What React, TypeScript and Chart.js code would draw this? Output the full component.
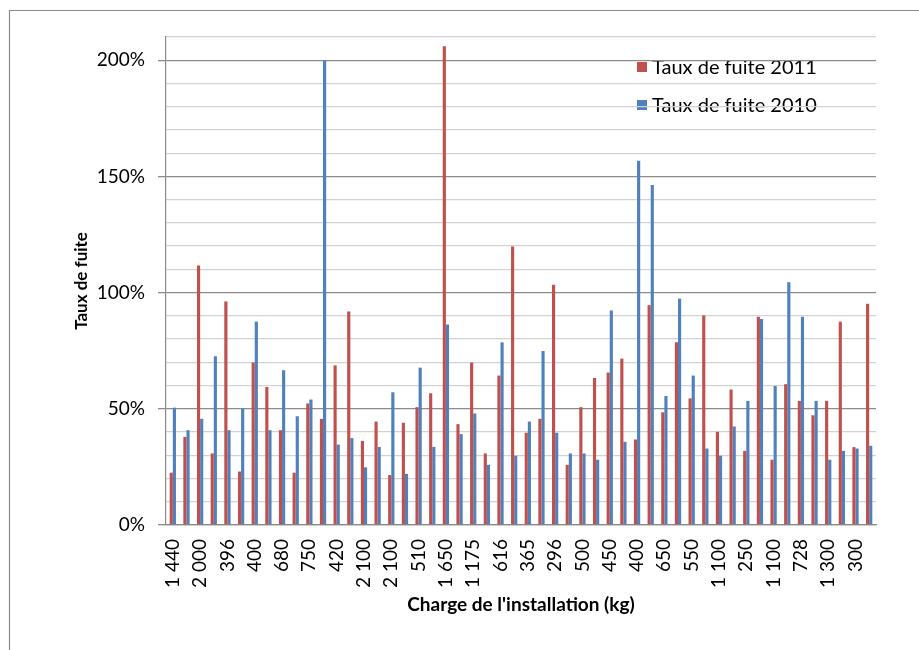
import React, { useEffect, useRef } from "react";
import { Chart, registerables } from "chart.js";

Chart.register(...registerables);

// Visible category labels (every other category is labelled in the original)
const visibleLabels = [
  "1 440", "2 000", "396", "400", "680", "750", "420", "2 100", "2 100", "510",
  "1 650", "1 175", "616", "365", "296", "500", "450", "400", "650", "550",
  "1 100", "250", "1 100", "728", "1 300", "300",
];

const fuite2011 = [
  22.5, 37.9, 111.7, 30.8, 96.2, 23.0, 69.9, 59.4, 40.8, 22.5,
  52.3, 45.7, 68.7, 91.9, 36.2, 44.5, 21.5, 44.0, 50.7, 56.7,
  206.0, 43.4, 69.9, 30.8, 64.3, 119.8, 39.7, 45.7, 103.4, 25.9,
  50.7, 63.3, 65.6, 71.6, 36.8, 94.6, 48.5, 78.6, 54.5, 90.2,
  40.1, 58.3, 31.9, 89.6, 28.1, 60.6, 53.4, 47.2, 53.4, 87.5,
  33.5, 95.2,
];

const fuite2010 = [
  50.5, 40.8, 45.7, 72.6, 40.8, 50.1, 87.5, 40.8, 66.6, 46.8,
  54.0, 200.0, 34.6, 37.4, 24.8, 33.6, 57.1, 22.0, 67.7, 33.6,
  86.3, 39.1, 48.0, 25.9, 78.6, 29.8, 44.5, 74.9, 39.7, 30.8,
  30.8, 28.1, 92.3, 35.8, 156.8, 146.3, 55.5, 97.4, 64.3, 32.9,
  29.8, 42.4, 53.4, 88.6, 59.8, 104.5, 89.6, 53.4, 28.1, 31.9,
  32.9, 34.1,
];

const categories: string[] = [];
visibleLabels.forEach((l) => {
  categories.push(l);
  categories.push("");
});

const seriesNames = ["Taux de fuite 2011", "Taux de fuite 2010"];
const seriesColors = ["#C0504D", "#4F81BD"];

const FONT = "Lato, 'Open Sans', sans-serif";

const framePlugin = {
  id: "frameAndLegend",
  beforeDraw(chart: any) {
    const ctx = chart.ctx;
    const { width, height } = chart;
    ctx.save();
    ctx.fillStyle = "#ffffff";
    ctx.fillRect(0, 0, width, height);
    ctx.strokeStyle = "#8a8a8a";
    ctx.lineWidth = 1.2;
    ctx.beginPath();
    ctx.moveTo(9.5, height);
    ctx.lineTo(9.5, 10.5);
    ctx.lineTo(width, 10.5);
    ctx.stroke();

    // legend (drawn under the gridlines, as in the original)
    const area = chart.chartArea;
    const x0 = area.right - 239;
    const rows = [area.top + 30, area.top + 68];
    ctx.font = `20px ${FONT}`;
    ctx.textBaseline = "middle";
    ctx.textAlign = "left";
    chart.data.datasets.forEach((ds: any, i: number) => {
      const y = rows[i];
      ctx.fillStyle = ds.backgroundColor;
      ctx.fillRect(x0, y - 5, 10, 10);
      ctx.fillStyle = "#000000";
      ctx.fillText(ds.label, x0 + 15, y + 1);
    });
    ctx.restore();
  },
};

export default function App() {
  const canvasRef = useRef<HTMLCanvasElement | null>(null);

  useEffect(() => {
    if (!canvasRef.current) return;
    const chart = new Chart(canvasRef.current, {
      type: "bar",
      data: {
        labels: categories,
        datasets: [
          {
            label: seriesNames[0],
            data: fuite2011,
            backgroundColor: seriesColors[0],
            borderWidth: 0,
            categoryPercentage: 0.46,
            barPercentage: 1,
          },
          {
            label: seriesNames[1],
            data: fuite2010,
            backgroundColor: seriesColors[1],
            borderWidth: 0,
            categoryPercentage: 0.46,
            barPercentage: 1,
          },
        ],
      },
      options: {
        responsive: false,
        animation: false,
        devicePixelRatio: 1,
        layout: { padding: { left: 0, right: 43, top: 37, bottom: 0 } },
        plugins: {
          legend: { display: false },
          tooltip: { enabled: false },
          title: { display: false },
        },
        scales: {
          x: {
            grid: { display: false, drawTicks: false },
            border: { display: true, color: "#8a8a8a", width: 1.2 },
            ticks: {
              autoSkip: false,
              maxRotation: 90,
              minRotation: 90,
              padding: 14,
              color: "#000000",
              font: { family: FONT, size: 19 },
              callback: (_v: any, i: number) => categories[i],
            },
            title: {
              display: true,
              text: "Charge de l'installation (kg)",
              color: "#000000",
              font: { family: FONT, size: 19, weight: "bold" },
              padding: { top: 0, bottom: 34 },
            },
            afterFit: (scale: any) => {
              scale.height = 125;
            },
          },
          y: {
            min: 0,
            max: 210,
            grid: {
              color: (c: any) =>
                c.tick && c.tick.value % 50 === 0 ? "#8c8c8c" : "#d2d2d2",
              lineWidth: 1.3,
              tickColor: (c: any) =>
                c.tick && c.tick.value % 50 === 0 ? "#8c8c8c" : "rgba(0,0,0,0)",
              tickLength: 8,
            },
            border: { display: true, color: "#8a8a8a", width: 1.2 },
            ticks: {
              stepSize: 10,
              autoSkip: false,
              padding: 13,
              color: "#000000",
              font: { family: FONT, size: 19 },
              callback: (v: any) => (Number(v) % 50 === 0 ? `${v}%` : ""),
            },
            title: {
              display: true,
              text: "Taux de fuite",
              color: "#000000",
              font: { family: FONT, size: 17, weight: "bold" },
              padding: { top: 71, bottom: 0 },
            },
            afterFit: (scale: any) => {
              scale.width = 166;
            },
          },
        },
      },
      plugins: [framePlugin],
    });
    return () => chart.destroy();
  }, []);

  return (
    <div style={{ position: "fixed", left: 0, top: 0, width: 919, height: 650, background: "#fff" }}>
      <canvas ref={canvasRef} width={919} height={650} style={{ display: "block" }} />
    </div>
  );
}
